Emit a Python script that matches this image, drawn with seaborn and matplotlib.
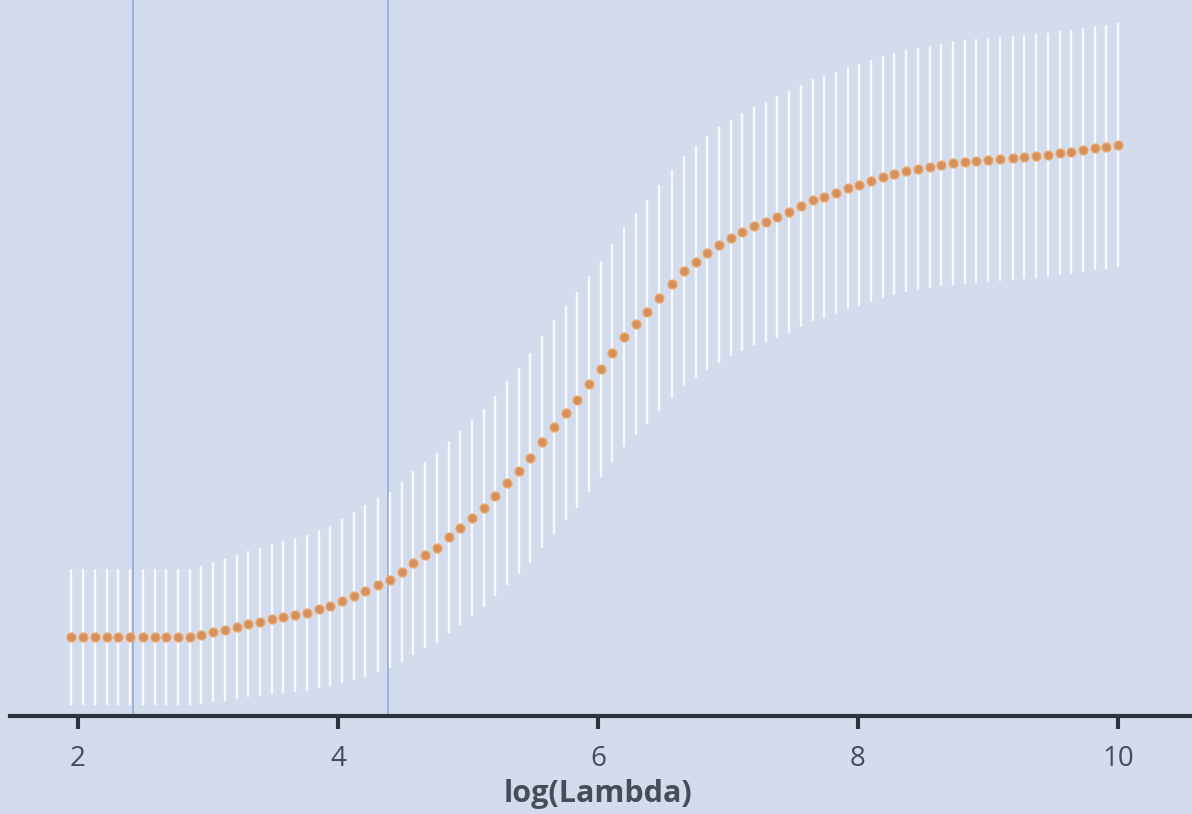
import matplotlib
matplotlib.use("Agg")
import matplotlib.pyplot as plt
import seaborn as sns
import pandas as pd

# ---- data ----
log_lambda = [1.95, 2.04, 2.13, 2.22, 2.31, 2.40, 2.50, 2.59, 2.68, 2.77,
              2.86, 2.95, 3.04, 3.13, 3.22, 3.31, 3.40, 3.49, 3.58, 3.67,
              3.76, 3.85, 3.94, 4.03, 4.12, 4.21, 4.31, 4.40, 4.49, 4.58,
              4.67, 4.76, 4.85, 4.94, 5.03, 5.12, 5.21, 5.30, 5.39, 5.48,
              5.57, 5.66, 5.75, 5.84, 5.93, 6.02, 6.11, 6.20, 6.29, 6.38,
              6.47, 6.57, 6.66, 6.75, 6.84, 6.93, 7.02, 7.11, 7.20, 7.29,
              7.38, 7.47, 7.56, 7.65, 7.74, 7.83, 7.92, 8.01, 8.10, 8.19,
              8.28, 8.37, 8.46, 8.55, 8.64, 8.73, 8.82, 8.91, 9.00, 9.09,
              9.19, 9.28, 9.37, 9.46, 9.55, 9.64, 9.73, 9.82, 9.91, 10.00]

cv_mean = [0.79, 0.79, 0.79, 0.79, 0.79, 0.79, 0.79, 0.79, 0.79, 0.79,
           0.79, 0.81, 0.84, 0.86, 0.89, 0.92, 0.94, 0.97, 0.99, 1.01,
           1.03, 1.07, 1.10, 1.15, 1.20, 1.25, 1.31, 1.36, 1.44, 1.53,
           1.61, 1.68, 1.79, 1.88, 1.98, 2.08, 2.20, 2.33, 2.45, 2.58,
           2.74, 2.89, 3.03, 3.16, 3.32, 3.47, 3.63, 3.79, 3.92, 4.04,
           4.18, 4.32, 4.45, 4.54, 4.63, 4.71, 4.78, 4.84, 4.90, 4.94,
           4.99, 5.04, 5.10, 5.16, 5.19, 5.23, 5.28, 5.31, 5.35, 5.39,
           5.42, 5.45, 5.47, 5.49, 5.51, 5.53, 5.54, 5.55, 5.56, 5.57,
           5.58, 5.59, 5.60, 5.61, 5.63, 5.64, 5.66, 5.68, 5.69, 5.71]

cv_sd = [0.68, 0.68, 0.68, 0.68, 0.68, 0.68, 0.68, 0.68, 0.68, 0.68,
         0.68, 0.69, 0.70, 0.71, 0.72, 0.73, 0.74, 0.75, 0.76, 0.77,
         0.78, 0.79, 0.80, 0.82, 0.84, 0.86, 0.87, 0.88, 0.90, 0.92,
         0.93, 0.95, 0.96, 0.97, 0.98, 0.99, 1.00, 1.02, 1.03, 1.05,
         1.06, 1.07, 1.07, 1.08, 1.08, 1.08, 1.09, 1.10, 1.11, 1.12,
         1.13, 1.14, 1.15, 1.16, 1.17, 1.18, 1.18, 1.19, 1.19, 1.20,
         1.21, 1.21, 1.21, 1.21, 1.21, 1.21, 1.21, 1.21, 1.21, 1.21,
         1.21, 1.21, 1.21, 1.21, 1.21, 1.22, 1.22, 1.22, 1.22, 1.22,
         1.22, 1.22, 1.22, 1.22, 1.22, 1.22, 1.22, 1.22, 1.22, 1.22]

lambda_min = 2.42
lambda_1se = 4.385

x_ticks = [2, 4, 6, 8, 10]
x_label = "log(Lambda)"

# ---- styling ----
BG = "#d3dcec"
sns.set_theme(style="white")
plt.rcParams["font.family"] = ["Open Sans", "DejaVu Sans"]

df = pd.DataFrame({"log_lambda": log_lambda, "mean": cv_mean, "sd": cv_sd})
df["lo"] = df["mean"] - df["sd"]
df["hi"] = df["mean"] + df["sd"]

fig = plt.figure(figsize=(11.92, 8.14), dpi=100, facecolor=BG)
ax = fig.add_axes([10 / 1192, 98 / 814, 1182 / 1192, 716 / 814])
ax.set_facecolor(BG)

# error bars
ax.vlines(df["log_lambda"], df["lo"], df["hi"], colors="white",
          linewidth=1.7, alpha=0.85, zorder=2)

# reference lines
for v in (lambda_min, lambda_1se):
    ax.axvline(v, color="#8eaedb", linewidth=1.2, zorder=1)

# mean points
sns.scatterplot(data=df, x="log_lambda", y="mean", ax=ax, s=40,
                color="#d4915f", edgecolor="#eea35f", linewidth=1.0,
                zorder=3, legend=False)

ax.set_xlim(1.477, 10.569)
ax.set_ylim(0, 7.16)

for s in ("left", "right", "top"):
    ax.spines[s].set_visible(False)
ax.spines["bottom"].set_color("#2a323e")
ax.spines["bottom"].set_linewidth(3)

ax.set_yticks([])
ax.set_xticks(x_ticks)
ax.set_xticklabels([str(t) for t in x_ticks])
ax.tick_params(axis="x", bottom=True, direction="out", length=9, width=3,
               color="#2a323e", labelsize=20, labelcolor="#454d5c", pad=12)
ax.set_xlabel(x_label, fontsize=22, fontweight="bold", color="#454d5a")
ax.set_ylabel("")
ax.xaxis.set_label_coords(0.4975, -0.088)

fig.savefig("out.png", dpi=100, facecolor=BG)
